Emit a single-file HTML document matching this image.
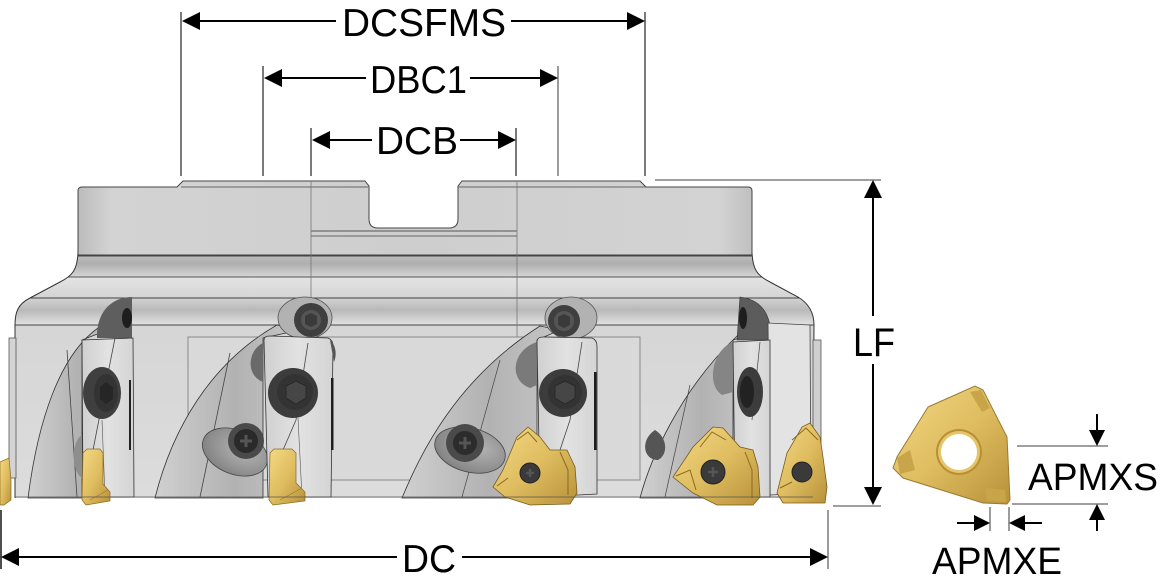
<!DOCTYPE html>
<html><head><meta charset="utf-8">
<style>
html,body{margin:0;padding:0;background:#fff;width:1162px;height:586px;overflow:hidden;}
svg{display:block;}
text{font-family:"Liberation Sans",Arial,sans-serif;fill:#000;}
</style></head>
<body>
<svg width="1162" height="586" viewBox="0 0 1162 586" xmlns="http://www.w3.org/2000/svg">
<defs>
 <linearGradient id="hub" x1="0" x2="1" y1="0" y2="0">
  <stop offset="0" stop-color="#bcbcbc"/>
  <stop offset="0.05" stop-color="#d3d3d3"/>
  <stop offset="0.5" stop-color="#cecece"/>
  <stop offset="0.95" stop-color="#d3d3d3"/>
  <stop offset="1" stop-color="#c0c0c0"/>
 </linearGradient>
 <linearGradient id="band1" x1="0" x2="0" y1="0" y2="1">
  <stop offset="0" stop-color="#c8c8c8"/>
  <stop offset="0.5" stop-color="#aeaeae"/>
  <stop offset="1" stop-color="#d6d6d6"/>
 </linearGradient>
 <linearGradient id="band2" x1="0" x2="0" y1="0" y2="1">
  <stop offset="0" stop-color="#e4e4e4"/>
  <stop offset="1" stop-color="#d4d4d4"/>
 </linearGradient>
 <linearGradient id="band3" x1="0" x2="0" y1="0" y2="1">
  <stop offset="0" stop-color="#d2d2d2"/>
  <stop offset="0.45" stop-color="#b9b9b9"/>
  <stop offset="1" stop-color="#e2e2e2"/>
 </linearGradient>
 <linearGradient id="lower" x1="0" x2="0" y1="0" y2="1">
  <stop offset="0" stop-color="#d6d6d6"/>
  <stop offset="1" stop-color="#dcdcdc"/>
 </linearGradient>
 <linearGradient id="fin" x1="0" x2="1" y1="0" y2="0">
  <stop offset="0" stop-color="#d0d0d0"/>
  <stop offset="0.55" stop-color="#b2b2b2"/>
  <stop offset="1" stop-color="#c6c6c6"/>
 </linearGradient>
 <linearGradient id="gold" x1="0" y1="0" x2="1" y2="1">
  <stop offset="0" stop-color="#f3d985"/>
  <stop offset="0.5" stop-color="#dfbd60"/>
  <stop offset="1" stop-color="#b8913a"/>
 </linearGradient>
 <linearGradient id="wedge" x1="0" x2="1" y1="0" y2="0">
  <stop offset="0" stop-color="#d0d0d0"/>
  <stop offset="0.5" stop-color="#e2e2e2"/>
  <stop offset="1" stop-color="#d4d4d4"/>
 </linearGradient>
 <radialGradient id="pocket" cx="0.6" cy="0.4" r="0.7">
  <stop offset="0" stop-color="#b5b5b5"/>
  <stop offset="1" stop-color="#7e7e7e"/>
 </radialGradient>
 <clipPath id="bodyclip">
  <path d="M78,250 C78,270 72,276 60,282 L30,298 C18,304 15,312 15,325 L15,498 L813,498 L814,325 C814,312 808,303 798,297 L770,282 C758,276 752,270 752,250 Z"/>
 </clipPath>
</defs>

<!-- ============ MAIN BODY ============ -->
<g clip-path="url(#bodyclip)">
 <rect x="0" y="250" width="830" height="27" fill="url(#band1)"/>
 <rect x="0" y="277" width="830" height="21" fill="url(#band2)"/>
 <rect x="0" y="298" width="830" height="27" fill="url(#band3)"/>
 <rect x="0" y="325" width="830" height="175" fill="url(#lower)"/>
 <line x1="0" y1="277" x2="830" y2="277" stroke="#555" stroke-width="1"/>
 <line x1="0" y1="298" x2="830" y2="298" stroke="#444" stroke-width="1"/>
 <line x1="0" y1="325" x2="830" y2="325" stroke="#444" stroke-width="1"/>
</g>
<path d="M78,250 C78,270 72,276 60,282 L30,298 C18,304 15,312 15,325 L15,498" fill="none" stroke="#333" stroke-width="1"/>
<path d="M752,250 C752,270 758,276 770,282 L798,297 C808,303 814,312 814,325 L813,498" fill="none" stroke="#333" stroke-width="1"/>
<!-- left / right protrusions -->
<rect x="9" y="338" width="7" height="140" fill="#d4d4d4" stroke="#555" stroke-width="0.8"/>
<rect x="813" y="340" width="8" height="140" fill="#cfcfcf" stroke="#555" stroke-width="0.8"/>

<!-- recessed panel -->
<rect x="188" y="337" width="452" height="143" fill="#d9d9d9" stroke="#8a8a8a" stroke-width="1"/>

<!-- ============ HUB ============ -->
<path d="M78,256 L78,191 Q78,187 82,187 L177,187 L183,181 L365,181 L369,186 L369,219 Q369,228 378,228 L449,228 Q458,228 458,219 L458,186 L462,181 L640,181 L646,187 L748,187 Q752,187 752,191 L752,256 Z" fill="url(#hub)" stroke="#444" stroke-width="1"/>
<line x1="181" y1="187" x2="369" y2="187" stroke="#666" stroke-width="1"/>
<line x1="458" y1="187" x2="646" y2="187" stroke="#666" stroke-width="1"/>
<line x1="78" y1="255" x2="752" y2="255" stroke="#444" stroke-width="1"/>
<line x1="311" y1="231" x2="517" y2="231" stroke="#555" stroke-width="1"/>
<line x1="311" y1="236" x2="517" y2="236" stroke="#666" stroke-width="1"/>
<line x1="311" y1="181" x2="311" y2="300" stroke="#777" stroke-width="0.8"/>
<line x1="517" y1="181" x2="517" y2="337" stroke="#777" stroke-width="0.8"/>

<!-- ============ TOOTH A ============ -->
<path d="M28,498 C38,420 60,355 98,328 L118,326 L82,340 L82,498 Z" fill="url(#fin)" stroke="#333" stroke-width="0.8"/>
<line x1="67" y1="350" x2="77" y2="497" stroke="#444" stroke-width="0.8"/>
<path d="M132,297 C110,297 96,314 97,338 L132,338 Z" fill="#5e5e5e"/>
<ellipse cx="127" cy="318" rx="5" ry="10" fill="#1e1e1e"/>
<path d="M82,340 L133,338 L134,497 L83,497 Z" fill="url(#wedge)" stroke="#333" stroke-width="0.8"/>
<line x1="115" y1="338" x2="93" y2="450" stroke="#444" stroke-width="0.8"/>
<line x1="102" y1="420" x2="105" y2="497" stroke="#555" stroke-width="0.6"/>
<rect x="129" y="380" width="2" height="70" fill="#222"/>
<path d="M82,435 C72,440 70,470 82,478 Z" fill="#8e8e8e"/>
<ellipse cx="102" cy="393" rx="19" ry="26" fill="#3f3f3f"/>
<ellipse cx="106" cy="393" rx="12" ry="19" fill="#333"/>
<polygon points="106,382 113,387 113,399 106,404 100,399 100,387" fill="#262626"/>
<polygon points="83,453 87,449 100,449 103,453 103,484 110,492 110,501 86,505 82,500" fill="url(#gold)" stroke="#8a6a20" stroke-width="0.7"/>
<line x1="90" y1="500" x2="108" y2="490" stroke="#9a7a30" stroke-width="0.7"/>
<!-- far-left insert -->
<polygon points="0,462 9,458 11,480 11,500 4,505 0,505" fill="url(#gold)" stroke="#8a6a20" stroke-width="0.7"/>

<!-- ============ TOOTH B ============ -->
<path d="M155,498 C172,430 210,363 277,325 L300,330 L263,338 L263,498 Z" fill="url(#fin)" stroke="#333" stroke-width="0.8"/>
<line x1="230" y1="353" x2="200" y2="497" stroke="#444" stroke-width="0.8"/>
<path d="M263,343 C248,350 245,375 263,382 Z" fill="#6a6a6a"/>
<g transform="rotate(22 235 452)">
 <ellipse cx="235" cy="452" rx="34" ry="22" fill="url(#pocket)" stroke="#444" stroke-width="0.8"/>
</g>
<circle cx="246" cy="441" r="18" fill="#4a4a4a"/>
<circle cx="246" cy="441" r="12" fill="#2a2a2a"/>
<path d="M240,441 h12 M246,435 v12" stroke="#555" stroke-width="3"/>
<ellipse cx="305" cy="318" rx="27" ry="21" fill="#b2b2b2" stroke="#555" stroke-width="0.8"/>
<circle cx="311" cy="320" r="17" fill="#3f3f3f"/>
<circle cx="311" cy="320" r="10" fill="#555"/>
<polygon points="311,313 317,316 317,324 311,327 305,324 305,316" fill="#3a3a3a"/>
<path d="M264,340 Q264,336 270,336 L328,338 Q333,340 333,346 L331,497 L268,497 Z" fill="url(#wedge)" stroke="#333" stroke-width="0.8"/>
<line x1="308" y1="343" x2="296" y2="420" stroke="#444" stroke-width="0.8"/>
<line x1="296" y1="420" x2="283" y2="450" stroke="#444" stroke-width="0.8"/>
<line x1="298" y1="418" x2="302" y2="497" stroke="#555" stroke-width="0.6"/>
<rect x="331" y="378" width="2.5" height="72" fill="#1e1e1e"/>
<path d="M330,340 C336,345 337,355 334,362 Z" fill="#555"/>
<circle cx="293" cy="393" r="25" fill="#3c3c3c"/>
<circle cx="295" cy="392" r="18" fill="#333"/>
<polygon points="296,381 306,386 306,398 296,404 286,398 286,386" fill="#464646" stroke="#222" stroke-width="0.7"/>
<polygon points="270,453 274,449 292,449 296,453 296,483 305,492 305,501 273,505 269,500" fill="url(#gold)" stroke="#8a6a20" stroke-width="0.7"/>
<line x1="280" y1="500" x2="302" y2="488" stroke="#9a7a30" stroke-width="0.7"/>

<!-- ============ TOOTH C ============ -->
<path d="M402,498 C420,455 455,380 540,326 L560,330 L537,340 L537,498 Z" fill="url(#fin)" stroke="#333" stroke-width="0.8"/>
<line x1="500" y1="360" x2="462" y2="497" stroke="#444" stroke-width="0.7"/>
<path d="M537,342 C512,350 508,380 530,388 L537,385 Z" fill="#7a7a7a"/>
<g transform="rotate(15 470 450)">
 <ellipse cx="470" cy="450" rx="36" ry="22" fill="url(#pocket)" stroke="#444" stroke-width="0.8"/>
</g>
<circle cx="465" cy="443" r="19" fill="#4a4a4a"/>
<circle cx="465" cy="443" r="12" fill="#2c2c2c"/>
<path d="M459,443 h12 M465,437 v12" stroke="#555" stroke-width="3"/>
<ellipse cx="571" cy="318" rx="26" ry="21" fill="#b2b2b2" stroke="#555" stroke-width="0.8"/>
<circle cx="564" cy="321" r="16" fill="#3f3f3f"/>
<circle cx="564" cy="321" r="10" fill="#555"/>
<polygon points="564,314 570,317 570,325 564,328 558,325 558,317" fill="#3a3a3a"/>
<path d="M537,342 Q537,337 543,337 L592,338 Q597,340 597,346 L597,494 L540,497 Z" fill="url(#wedge)" stroke="#333" stroke-width="0.8"/>
<line x1="582" y1="342" x2="570" y2="420" stroke="#444" stroke-width="0.8"/>
<line x1="570" y1="420" x2="560" y2="450" stroke="#444" stroke-width="0.8"/>
<rect x="594" y="372" width="2.5" height="78" fill="#1e1e1e"/>
<circle cx="563" cy="393" r="24" fill="#3c3c3c"/>
<circle cx="565" cy="392" r="17" fill="#333"/>
<polygon points="565,381 575,386 575,398 565,404 555,398 555,386" fill="#464646" stroke="#222" stroke-width="0.7"/>
<polygon points="493,487 503,470 517,437 528,427 540,437 550,450 567,450 575,467 577,493 570,504 530,505 505,497" fill="url(#gold)" stroke="#7a5c1c" stroke-width="0.8"/>
<path d="M517,440 L528,432 L537,442 M497,486 L508,478 M560,452 L568,470 L568,495" fill="none" stroke="#8a6a20" stroke-width="1"/>
<circle cx="530" cy="473" r="10" fill="#3a3a3a" stroke="#222" stroke-width="1"/>
<path d="M526,473 h8 M530,469 v8" stroke="#555" stroke-width="2.5"/>

<!-- ============ TOOTH D ============ -->
<path d="M640,498 C650,460 680,390 737,336 L752,334 L733,340 L733,498 Z" fill="url(#fin)" stroke="#333" stroke-width="0.8"/>
<line x1="690" y1="385" x2="665" y2="497" stroke="#444" stroke-width="0.7"/>
<path d="M733,342 C712,350 706,385 722,395 L733,392 Z" fill="#858585"/>
<path d="M655,430 C640,440 643,460 658,460 C668,455 668,438 655,430 Z" fill="#555"/>
<path d="M740,297 Q765,300 770,325 L770,340 L737,340 Z" fill="#5c5c5c" stroke="#333" stroke-width="0.6"/>
<ellipse cx="743" cy="318" rx="4" ry="11" fill="#1e1e1e"/>
<path d="M768,323 L810,325 L811,493 L770,495 Z" fill="#e3e3e3" stroke="#444" stroke-width="0.8"/>
<path d="M733,342 L770,340 L770,497 L735,497 Z" fill="url(#wedge)" stroke="#333" stroke-width="0.8"/>
<line x1="760" y1="342" x2="752" y2="420" stroke="#444" stroke-width="0.7"/>
<ellipse cx="750" cy="392" rx="13" ry="25" fill="#3c3c3c"/>
<ellipse cx="747" cy="392" rx="7" ry="16" fill="#222"/>
<polygon points="673,477 693,447 713,427 723,428 740,447 753,450 758,467 760,497 753,505 717,505 693,493" fill="url(#gold)" stroke="#7a5c1c" stroke-width="0.8"/>
<path d="M700,447 L712,432 L726,440 M676,476 L690,470 L696,490 M745,452 L752,470 L752,498" fill="none" stroke="#8a6a20" stroke-width="1"/>
<circle cx="713" cy="472" r="12" fill="#3a3a3a" stroke="#222" stroke-width="1"/>
<path d="M708,472 h10 M713,467 v10" stroke="#555" stroke-width="2.5"/>
<!-- insert E -->
<polygon points="777,493 787,453 802,427 810,423 820,437 823,457 827,487 825,503 783,503" fill="url(#gold)" stroke="#7a5c1c" stroke-width="0.8"/>
<path d="M792,440 L806,428 L818,440 M780,488 L792,482" fill="none" stroke="#8a6a20" stroke-width="1"/>
<circle cx="802" cy="472" r="10" fill="#3a3a3a" stroke="#222" stroke-width="1"/>

<!-- bottom edge line -->
<line x1="15" y1="497" x2="813" y2="497" stroke="#555" stroke-width="0.8"/>

<!-- ============ RIGHT INSERT ============ -->
<polygon points="928,407 975,386 983,390 1007,437 1010,500 1007,504 983,503 903,478 893,468 897,457" fill="url(#gold)" stroke="#9a7a30" stroke-width="1"/>
<polygon points="970,392 981,390 990,408 982,412" fill="#c9a54a"/>
<polygon points="897,458 910,450 915,470 900,474" fill="#c9a54a"/>
<polygon points="985,488 1005,490 1006,502 987,501" fill="#c9a54a"/>
<circle cx="959" cy="452" r="23" fill="#b88f35"/>
<circle cx="959" cy="452" r="21" fill="#e6c56a"/>
<circle cx="959" cy="452" r="18" fill="#fff"/>

<!-- ============ DIMENSIONS ============ -->
<g stroke="#222" stroke-width="1.2">
 <line x1="181" y1="12" x2="181" y2="176"/>
 <line x1="645" y1="12" x2="645" y2="176"/>
 <line x1="263" y1="66" x2="263" y2="176"/>
 <line x1="311" y1="128" x2="311" y2="176"/>
 <line x1="516" y1="128" x2="516" y2="176"/>
 <line x1="1" y1="510" x2="1" y2="569" stroke-width="1.6"/>
</g>
<g stroke="#666" stroke-width="1.3">
 <line x1="558" y1="66" x2="558" y2="176"/>
 <line x1="655" y1="180" x2="881" y2="180"/>
 <line x1="833" y1="506" x2="881" y2="506"/>
 <line x1="828" y1="510" x2="828" y2="569"/>
 <line x1="1017" y1="446" x2="1108" y2="446"/>
 <line x1="1012" y1="504" x2="1108" y2="504"/>
 <line x1="990" y1="507" x2="990" y2="531"/>
 <line x1="1009" y1="507" x2="1009" y2="531"/>
</g>
<g stroke="#000" stroke-width="2">
 <line x1="190" y1="21" x2="336" y2="21"/>
 <line x1="511" y1="21" x2="637" y2="21"/>
 <line x1="272" y1="78" x2="366" y2="78"/>
 <line x1="470" y1="78" x2="550" y2="78"/>
 <line x1="320" y1="140" x2="372" y2="140"/>
 <line x1="460" y1="140" x2="508" y2="140"/>
 <line x1="10" y1="557" x2="397" y2="557"/>
 <line x1="462" y1="557" x2="820" y2="557"/>
 <line x1="873" y1="190" x2="873" y2="316"/>
 <line x1="873" y1="364" x2="873" y2="495"/>
 <line x1="1097" y1="414" x2="1097" y2="440"/>
 <line x1="1097" y1="512" x2="1097" y2="531"/>
 <line x1="957" y1="523" x2="982" y2="523"/>
 <line x1="1017" y1="523" x2="1042" y2="523"/>
</g>
<g fill="#000">
 <polygon points="182,21 200,12 200,30"/>
 <polygon points="645,21 627,12 627,30"/>
 <polygon points="264,78 282,69 282,87"/>
 <polygon points="558,78 540,69 540,87"/>
 <polygon points="312,140 330,131 330,149"/>
 <polygon points="516,140 498,131 498,149"/>
 <polygon points="1,557 19,548 19,566"/>
 <polygon points="828,557 810,548 810,566"/>
 <polygon points="873,180 864,198 882,198"/>
 <polygon points="873,505 864,487 882,487"/>
 <polygon points="1097,446 1089,430 1105,430"/>
 <polygon points="1097,504 1089,520 1105,520"/>
 <polygon points="990,523 974,515 974,531"/>
 <polygon points="1009,523 1025,515 1025,531"/>
</g>

<text x="342" y="36" font-size="39" textLength="164" lengthAdjust="spacingAndGlyphs">DCSFMS</text>
<text x="370" y="93" font-size="39" textLength="97" lengthAdjust="spacingAndGlyphs">DBC1</text>
<text x="376" y="154" font-size="39" textLength="82" lengthAdjust="spacingAndGlyphs">DCB</text>
<text x="402" y="572" font-size="39" textLength="54" lengthAdjust="spacingAndGlyphs">DC</text>
<text x="853" y="356" font-size="40" textLength="42" lengthAdjust="spacingAndGlyphs">LF</text>
<text x="1028" y="490" font-size="38" textLength="130" lengthAdjust="spacingAndGlyphs">APMXS</text>
<text x="932" y="574" font-size="38" textLength="130" lengthAdjust="spacingAndGlyphs">APMXE</text>
</svg>
</body></html>
